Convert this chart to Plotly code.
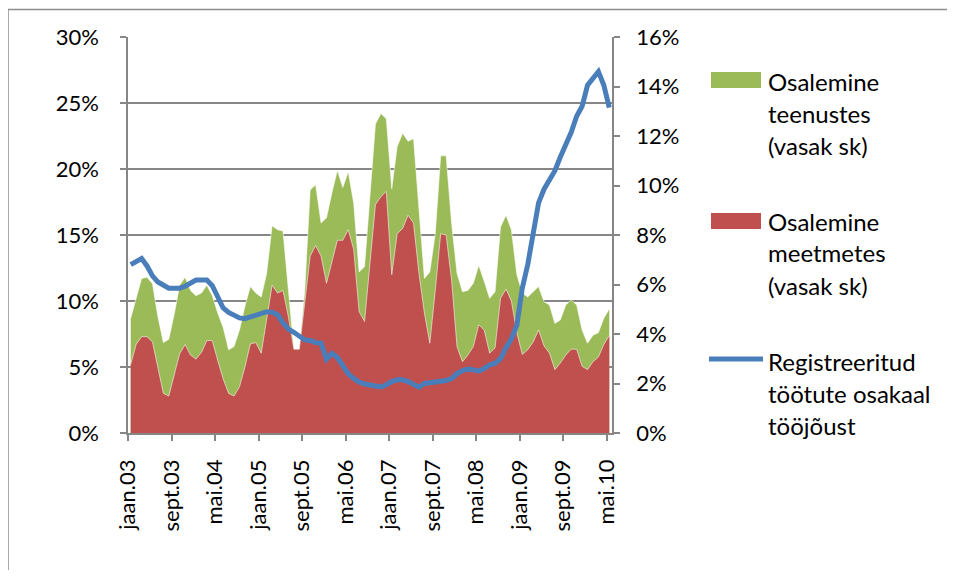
import plotly.graph_objects as go

# ---- data (monthly, jaan.03 .. mai.10) ----
tick_labels = ["jaan.03", "sept.03", "mai.04", "jaan.05", "sept.05", "mai.06",
               "jaan.07", "sept.07", "mai.08", "jaan.09", "sept.09", "mai.10"]
tick_month_index = [0, 8, 16, 24, 32, 40, 48, 56, 64, 72, 80, 88]

teenustes = [8.7, 10.2, 11.7, 11.8, 11.3, 8.8, 6.85, 7.1, 9.0, 11.2,
             11.8, 10.8, 10.4, 10.6, 11.2, 10.4, 9.1, 8.0, 6.3, 6.55,
             7.8, 9.6, 11.1, 10.6, 10.3, 12.1, 15.7, 15.4, 15.3, 10.8,
             6.35, 6.35, 10.8, 18.4, 18.8, 15.9, 16.3, 18.2, 19.9, 18.6,
             19.8, 17.4, 12.2, 12.6, 17.9, 23.4, 24.2, 23.8, 18.5, 21.7,
             22.7, 22.1, 22.3, 17.1, 11.7, 12.2, 15.1, 21.0, 21.0, 15.9,
             12.1, 10.7, 10.8, 11.35, 12.7, 11.5, 10.2, 10.7, 15.6, 16.5,
             15.4, 12.0, 10.6, 10.3, 10.7, 11.1, 9.95, 9.7, 8.3, 8.57,
             9.7, 10.1, 9.7, 7.8, 6.8, 7.4, 7.6, 8.7, 9.4]

meetmetes = [5.2, 6.7, 7.3, 7.3, 6.9, 4.9, 3.0, 2.8, 4.5, 6.0,
             6.7, 5.9, 5.6, 6.1, 7.0, 7.0, 5.5, 4.1, 3.0, 2.8,
             3.5, 5.0, 6.75, 6.85, 6.05, 8.6, 11.2, 10.6, 10.8, 8.8,
             6.35, 6.35, 9.8, 13.4, 14.2, 13.4, 11.35, 12.9, 14.6, 14.6,
             15.4, 13.9, 9.2, 8.45, 12.9, 17.3, 17.9, 18.3, 12.0, 15.1,
             15.5, 16.5, 15.9, 12.1, 9.1, 6.8, 10.8, 15.1, 15.0, 11.6,
             6.55, 5.4, 5.9, 6.55, 8.2, 7.8, 6.05, 6.45, 10.2, 10.9,
             10.0, 7.6, 5.95, 6.3, 6.9, 7.8, 6.6, 6.05, 4.8, 5.3,
             5.9, 6.35, 6.35, 5.05, 4.8, 5.4, 5.75, 6.7, 7.4]

registreeritud = [6.8, 6.95, 7.05, 6.75, 6.35, 6.1, 5.95, 5.85, 5.85, 5.85,
                  5.93, 6.05, 6.18, 6.18, 6.18, 5.95, 5.5, 5.05, 4.87, 4.75,
                  4.65, 4.62, 4.68, 4.76, 4.85, 4.9, 4.88, 4.78, 4.45, 4.2,
                  4.07, 3.9, 3.76, 3.74, 3.65, 3.63, 2.98, 3.22, 3.05, 2.72,
                  2.39, 2.2, 2.06, 1.98, 1.93, 1.87, 1.86, 1.95, 2.08, 2.15,
                  2.15, 2.08, 1.95, 1.85, 2.0, 2.03, 2.03, 2.06, 2.12, 2.2,
                  2.4, 2.52, 2.58, 2.56, 2.5, 2.6, 2.75, 2.82, 3.0, 3.45,
                  3.8, 4.35, 5.85, 6.8, 7.95, 9.3, 9.85, 10.25, 10.6, 11.15,
                  11.65, 12.15, 12.8, 13.2, 14.05, 14.35, 14.6, 14.05, 13.15]

legend_names = [["Osalemine", "teenustes", "(vasak sk)"],
                ["Osalemine", "meetmetes", "(vasak sk)"],
                ["Registreeritud", "töötute osakaal", "tööjõust"]]

months = list(range(len(teenustes)))

GREEN = "#9BBB59"
RED = "#C0504D"
BLUE = "#4A7EBB"
GRAY = "#868686"
FONT = "Lato"

# page body has an 8px margin; lay the figure out in reference pixel coords
OFF = 8
W, H = 955 - 2 * OFF, 578 - 2 * OFF
PL, PT, PW, PH = 128, 37, 484, 396          # plot area in reference pixels
L, T = PL - OFF, PT - OFF
R, B = W - L - PW, H - T - PH


def px(x):
    return (x - PL) / PW


def py(y):
    return (PT + PH - y) / PH


fig = go.Figure()
fig.add_trace(go.Scatter(x=months, y=teenustes, mode="lines", fill="tozeroy",
                         fillcolor=GREEN, line=dict(color="rgba(255,255,255,0.7)", width=0.8),
                         name=" ".join(legend_names[0]), showlegend=False, yaxis="y"))
fig.add_trace(go.Scatter(x=months, y=meetmetes, mode="lines", fill="tozeroy",
                         fillcolor=RED, line=dict(color="rgba(255,255,255,0.7)", width=0.8),
                         name=" ".join(legend_names[1]), showlegend=False, yaxis="y"))
fig.add_trace(go.Scatter(x=months, y=registreeritud, mode="lines",
                         line=dict(color=BLUE, width=5),
                         name=" ".join(legend_names[2]), showlegend=False, yaxis="y2"))

fig.update_layout(
    width=W, height=H,
    margin=dict(l=L, r=R, t=T, b=B, pad=0),
    paper_bgcolor="white", plot_bgcolor="white",
    font=dict(family=FONT, size=22, color="#000000"),
    xaxis=dict(range=[-0.5, len(months) - 0.5],
               tickvals=[m - 0.5 for m in tick_month_index], ticktext=tick_labels,
               tickangle=-90, ticks="outside", ticklen=6, tickwidth=1.5, tickcolor=GRAY,
               showline=True, linecolor=GRAY, linewidth=1.5, showgrid=False, zeroline=False,
               ticklabelstandoff=10),
    yaxis=dict(range=[0, 30], dtick=5, ticksuffix="%", ticks="outside", ticklen=6,
               tickwidth=1.5, tickcolor=GRAY, showline=True, linecolor=GRAY, linewidth=1.5,
               showgrid=True, gridcolor=GRAY, gridwidth=1.5, zeroline=False,
               ticklabelstandoff=17),
    yaxis2=dict(range=[0, 16], dtick=2, ticksuffix="%", overlaying="y", side="right",
                ticks="outside", ticklen=6, tickwidth=1.5, tickcolor=GRAY, showline=True,
                linecolor=GRAY, linewidth=1.5, showgrid=False, zeroline=False,
                ticklabelstandoff=12),
)

# chart-area border (left and top visible)
fig.add_shape(type="line", xref="paper", yref="paper", x0=px(8), x1=px(8), y0=py(600), y1=py(9.5),
              line=dict(color="#8c8c8c", width=1.5))
fig.add_shape(type="line", xref="paper", yref="paper", x0=px(8), x1=px(970), y0=py(9.5), y1=py(9.5),
              line=dict(color="#8c8c8c", width=1.5))

# legend (manual)
fig.add_shape(type="rect", xref="paper", yref="paper", x0=px(711), x1=px(761), y0=py(88), y1=py(72),
              fillcolor=GREEN, line=dict(width=0))
fig.add_shape(type="rect", xref="paper", yref="paper", x0=px(711), x1=px(761), y0=py(229), y1=py(213),
              fillcolor=RED, line=dict(width=0))
fig.add_shape(type="line", xref="paper", yref="paper", x0=px(709), x1=px(763), y0=py(359), y1=py(359),
              line=dict(color=BLUE, width=5))

line_centres = [[81, 113, 145], [221, 253, 285], [361, 393, 425]]
for names, ys in zip(legend_names, line_centres):
    for txt, yy in zip(names, ys):
        fig.add_annotation(text=txt, xref="paper", yref="paper", x=px(766), y=py(yy),
                           xanchor="left", yanchor="middle", showarrow=False,
                           font=dict(family=FONT, size=24, color="#000000"))

fig.write_html("out.html")
